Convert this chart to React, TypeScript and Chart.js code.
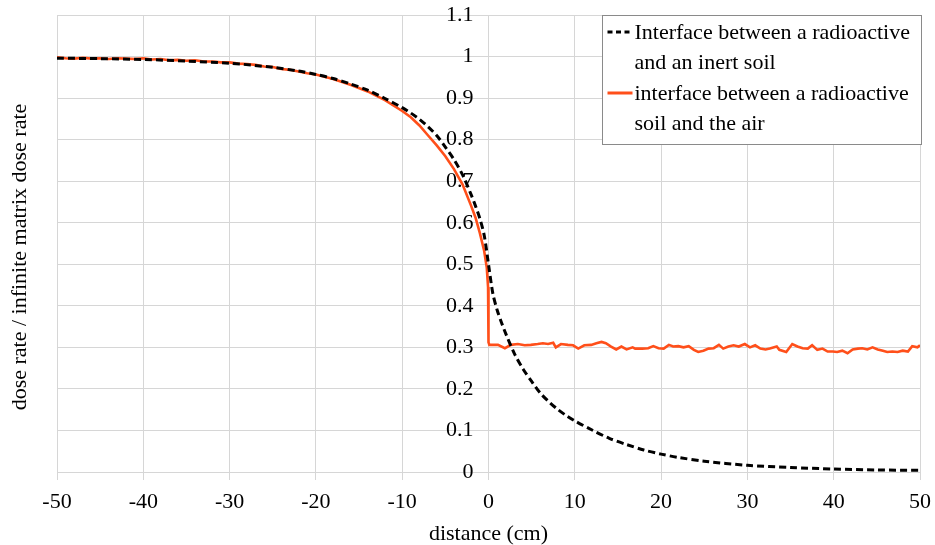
import React, { useEffect, useRef } from "react";
import { Chart, registerables } from "chart.js";

Chart.register(...registerables);

// ---- data ----
const inertLabel = ["Interface between a radioactive", "and an inert soil"];
const airLabel = ["interface between a radioactive", "soil and the air"];

const inertX = [
  -50, -45, -40, -35, -30, -25, -22, -20, -18, -16, -14, -12, -10, -9, -8, -7, -6, -5, -4, -3, -2, -1.5, -1, -0.5,
  0, 0.5, 1, 1.5, 2, 3, 4, 5, 6, 7, 8, 9, 10, 12, 14, 16, 18, 20, 22, 25, 30, 35, 40, 45, 50,
];
const inertY = [
  0.996, 0.995, 0.993, 0.989, 0.984, 0.974, 0.965, 0.957, 0.947, 0.934, 0.919, 0.899, 0.877, 0.864, 0.849, 0.831,
  0.81, 0.782, 0.752, 0.715, 0.667, 0.64, 0.61, 0.57, 0.5, 0.43, 0.39, 0.36, 0.333, 0.285, 0.248, 0.218, 0.19,
  0.169, 0.151, 0.136, 0.123, 0.101, 0.081, 0.066, 0.053, 0.043, 0.035, 0.026, 0.016, 0.011, 0.007, 0.005, 0.004,
];

const airX = [
  -50, -49, -48, -47, -46, -45, -44, -43, -42, -41, -40, -39, -38, -37, -36, -35, -34, -33, -32, -31, -30, -29, -28,
  -27, -26, -25, -24, -23, -22, -21, -20, -18, -16, -14, -12, -10, -9, -8, -7, -6, -5, -4, -3, -2, -1.5, -1, -0.5,
  -0.2, -0.05, 0, 0,
  0.1, 1.1, 1.9, 2.6, 3.4, 4.2, 4.9, 5.7, 6.3, 6.9, 7.5, 7.8, 8.4, 9.2, 9.8, 10.4, 11.1, 11.9, 12.5, 13.1, 13.6,
  14.2, 14.8, 15.4, 16.0, 16.7, 17.0, 17.8, 18.5, 19.1, 19.7, 20.3, 20.9, 21.4, 22.0, 22.6, 23.2, 23.8, 24.3, 24.9,
  25.5, 26.1, 26.7, 27.2, 27.8, 28.4, 29.0, 29.7, 30.3, 30.9, 31.5, 32.1, 32.6, 33.4, 33.7, 34.5, 35.2, 35.8, 36.4,
  37.0, 37.5, 38.1, 38.7, 39.3, 39.9, 40.4, 41.0, 41.6, 42.2, 42.8, 43.3, 43.9, 44.5, 45.1, 45.7, 46.2, 46.8, 47.4,
  48.0, 48.6, 49.1, 49.7, 50,
];
const airY = [
  0.998, 0.996, 0.995, 0.997, 0.995, 0.996, 0.994, 0.996, 0.995, 0.994, 0.996, 0.993, 0.994, 0.991, 0.992, 0.99,
  0.991, 0.988, 0.988, 0.986, 0.986, 0.983, 0.982, 0.98, 0.976, 0.975, 0.97, 0.968, 0.964, 0.96, 0.957, 0.946,
  0.932, 0.916, 0.895, 0.869, 0.854, 0.834, 0.81, 0.786, 0.76, 0.729, 0.692, 0.64, 0.612, 0.575, 0.532, 0.492,
  0.445, 0.415, 0.312,
  0.306, 0.306, 0.298, 0.306, 0.308, 0.305, 0.306, 0.308, 0.31, 0.308, 0.311, 0.3, 0.308, 0.306, 0.305, 0.297,
  0.305, 0.306, 0.31, 0.313, 0.31, 0.302, 0.295, 0.302, 0.295, 0.3, 0.297, 0.297, 0.298, 0.303, 0.298, 0.297,
  0.306, 0.302, 0.303, 0.3, 0.303, 0.294, 0.289, 0.292, 0.297, 0.298, 0.306, 0.297, 0.302, 0.305, 0.302, 0.308,
  0.3, 0.305, 0.297, 0.295, 0.297, 0.302, 0.294, 0.289, 0.308, 0.302, 0.298, 0.297, 0.305, 0.294, 0.297, 0.29,
  0.29, 0.289, 0.292, 0.286, 0.295, 0.297, 0.298, 0.295, 0.3, 0.295, 0.292, 0.289, 0.29, 0.289, 0.292, 0.29,
  0.303, 0.3, 0.305,
];

const xTitle = "distance (cm)";
const yTitle = "dose rate / infinite matrix dose rate";

const SERIF = '"Liberation Serif", "Times New Roman", serif';
const GRID = "#d6d6d6";
const ORANGE = "#ff4f1a";

const yTitlePlugin = {
  id: "yTitle",
  afterDraw(chart: any) {
    const ctx = chart.ctx;
    ctx.save();
    ctx.translate(20, 257);
    ctx.rotate(-Math.PI / 2);
    ctx.font = `22px ${SERIF}`;
    ctx.fillStyle = "#000";
    ctx.textAlign = "center";
    ctx.textBaseline = "middle";
    ctx.fillText(yTitle, 0, 0);
    ctx.restore();
  },
};

const boxLegendPlugin = {
  id: "boxLegend",
  afterDraw(chart: any) {
    const ctx = chart.ctx;
    const area = chart.chartArea;
    const bw = 319;
    const bh = 129;
    const bx = Math.round(area.right - bw + 1) + 0.5;
    const by = Math.round(area.top) + 0.5;
    ctx.save();
    ctx.fillStyle = "#fff";
    ctx.fillRect(bx, by, bw, bh);
    ctx.strokeStyle = "#8a8a8a";
    ctx.lineWidth = 1;
    ctx.strokeRect(bx, by, bw, bh);
    ctx.font = `22px ${SERIF}`;
    ctx.textBaseline = "middle";
    ctx.textAlign = "left";
    const lineH = 30.5;
    let y = by + 17.5;
    chart.data.datasets.forEach((ds: any) => {
      const lines: string[] = ds.legendLines;
      ctx.beginPath();
      ctx.strokeStyle = ds.borderColor;
      ctx.lineWidth = 3;
      ctx.setLineDash(ds.borderDash && ds.borderDash.length ? [5, 3.5] : []);
      ctx.moveTo(bx + 5, y - 1);
      ctx.lineTo(bx + 30, y - 1);
      ctx.stroke();
      ctx.setLineDash([]);
      ctx.fillStyle = "#000";
      lines.forEach((t, i) => ctx.fillText(t, bx + 32, y + i * lineH));
      y += lines.length * lineH;
    });
    ctx.restore();
  },
};

export default function App() {
  const ref = useRef<HTMLCanvasElement | null>(null);
  useEffect(() => {
    if (!ref.current) return;
    const font = { family: SERIF, size: 22 };
    const chart = new Chart(ref.current, {
      type: "line",
      data: {
        datasets: [
          {
            label: inertLabel.join(" "),
            legendLines: inertLabel,
            data: inertX.map((x, i) => ({ x, y: inertY[i] })),
            borderColor: "#000",
            borderWidth: 3,
            borderDash: [7, 4],
            pointRadius: 0,
            tension: 0.3,
            fill: false,
          } as any,
          {
            label: airLabel.join(" "),
            legendLines: airLabel,
            data: airX.map((x, i) => ({ x, y: airY[i] })),
            borderColor: ORANGE,
            borderWidth: 2.6,
            pointRadius: 0,
            tension: 0,
            fill: false,
          } as any,
        ],
      },
      options: {
        animation: false,
        responsive: false,
        devicePixelRatio: 1,
        layout: { padding: { top: 15, right: 15, left: 0, bottom: 0 } },
        plugins: { legend: { display: false }, tooltip: { enabled: false } },
        scales: {
          x: {
            type: "linear",
            min: -50,
            max: 50,
            ticks: { stepSize: 10, font, color: "#000", padding: 9 },
            grid: { color: GRID, tickLength: 8, drawTicks: true },
            border: { color: GRID },
            title: { display: true, text: xTitle, font, color: "#000", padding: { top: 0, bottom: -2 } },
            afterFit: (s: any) => {
              s.height = 73;
              s.paddingLeft = 0;
              s.paddingRight = 0;
            },
          },
          y: {
            type: "linear",
            min: 0,
            max: 1.1,
            ticks: { display: false, stepSize: 0.1 },
            grid: { color: GRID, drawTicks: false },
            border: { color: GRID },
            afterFit: (s: any) => {
              s.width = 57;
              s.paddingTop = 0;
              s.paddingBottom = 0;
            },
          },
          y2: {
            type: "linear",
            position: { x: -1.74 },
            min: 0,
            max: 1.1,
            ticks: {
              stepSize: 0.1,
              font,
              color: "#000",
              padding: 0,
              callback: (v: any) => String(Number(Number(v).toFixed(1))),
            },
            grid: { display: false, drawTicks: false },
            border: { display: false },
            afterFit: (s: any) => {
              s.paddingTop = 0;
              s.paddingBottom = 0;
              s.paddingLeft = 0;
              s.paddingRight = 0;
            },
          },
        },
      } as any,
      plugins: [yTitlePlugin, boxLegendPlugin],
    });
    return () => chart.destroy();
  }, []);
  return (
    <div style={{ position: "fixed", left: 0, top: 0, width: 935, height: 545, background: "#fff" }}>
      <canvas ref={ref} width={935} height={545} />
    </div>
  );
}
